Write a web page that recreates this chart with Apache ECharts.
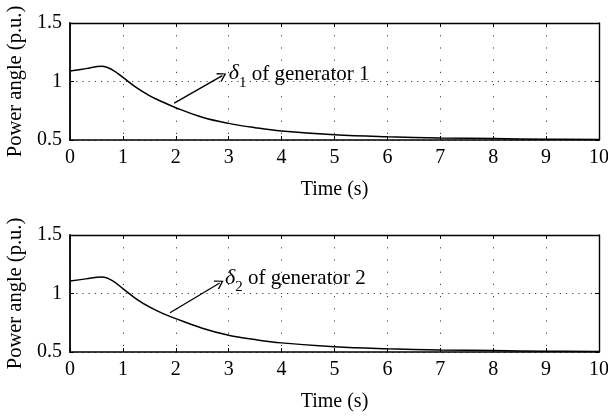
<!DOCTYPE html>
<html>
<head>
<meta charset="utf-8">
<script src="https://cdn.jsdelivr.net/npm/echarts@6/dist/echarts.min.js"></script>
<style>
  html, body { margin: 0; padding: 0; background: #fff; }
  #chart { width: 608px; height: 417px; }
</style>
</head>
<body>
<div id="chart"></div>
<script>
  // values
  var time = [0, 0.3, 0.6, 0.8, 1.0, 1.25, 1.5, 1.75, 2.0, 2.5, 3.0, 3.5, 4, 5, 6, 7, 8, 9, 10];
  var delta1 = [1.09, 1.11, 1.13, 1.10, 1.035, 0.95, 0.88, 0.825, 0.776, 0.695, 0.642, 0.605, 0.577, 0.545, 0.528, 0.518, 0.512, 0.507, 0.504];
  var delta2 = [1.107, 1.125, 1.14, 1.11, 1.041, 0.955, 0.885, 0.83, 0.785, 0.703, 0.643, 0.606, 0.578, 0.545, 0.528, 0.518, 0.512, 0.507, 0.504];
  var xTicks = [0, 10, 1];
  var yTicks = [0.5, 1.5, 0.5];
  var arrow1 = [[1.97, 0.815], [2.88, 1.05]];
  var arrow2 = [[1.89, 0.836], [2.83, 1.09]];
  var label1 = [3.0, 1.077, '1', 'generator 1'];
  var label2 = [2.93, 1.141, '2', 'generator 2'];

  var font = 'Liberation Serif';
  var chevron = 'path://M5,0 L10,7.6 L9,8.4 L5,2.2 L1,8.4 L0,7.6 Z';

  function pairs(xs, ys) {
    return xs.map(function (x, i) { return [x, ys[i]]; });
  }

  function xAxes(gi) {
    return [
      {
        gridIndex: gi, type: 'value', min: xTicks[0], max: xTicks[1], interval: xTicks[2],
        position: 'bottom',
        name: 'Time (s)', nameLocation: 'middle', nameGap: 40,
        nameTextStyle: { fontFamily: font, fontSize: 20, color: '#000' },
        axisLine: { onZero: false, lineStyle: { color: '#000', width: 1.6 } },
        axisTick: { inside: true, length: 4, lineStyle: { color: '#000' } },
        axisLabel: { fontFamily: font, fontSize: 20, color: '#000', margin: 8 },
        splitLine: { show: true, lineStyle: { color: '#444', width: 1, type: [1.2, 11] } }
      },
      {
        gridIndex: gi, type: 'value', min: xTicks[0], max: xTicks[1], interval: xTicks[2],
        position: 'top',
        axisLine: { onZero: false, lineStyle: { color: '#000', width: 1.4 } },
        axisTick: { inside: true, length: 4, lineStyle: { color: '#000' } },
        axisLabel: { show: false },
        splitLine: { show: false }
      }
    ];
  }

  function yAxes(gi) {
    return [
      {
        gridIndex: gi, type: 'value', min: yTicks[0], max: yTicks[1], interval: yTicks[2],
        position: 'left',
        name: 'Power angle (p.u.)', nameLocation: 'middle', nameGap: 44,
        nameTextStyle: { fontFamily: font, fontSize: 20.5, color: '#000' },
        axisLine: { show: true, onZero: false, lineStyle: { color: '#000', width: 1.8 } },
        axisTick: { show: true, inside: true, length: 4, lineStyle: { color: '#000' } },
        axisLabel: { fontFamily: font, fontSize: 20, color: '#000', margin: 8 },
        splitLine: { show: true, lineStyle: { color: '#444', width: 1, type: [1.2, 5] } }
      },
      {
        gridIndex: gi, type: 'value', min: yTicks[0], max: yTicks[1], interval: yTicks[2],
        position: 'right',
        axisLine: { show: true, onZero: false, lineStyle: { color: '#000', width: 1.4 } },
        axisTick: { show: true, inside: true, length: 4, lineStyle: { color: '#000' } },
        axisLabel: { show: false },
        splitLine: { show: false }
      }
    ];
  }

  function curve(gi, ys, arrow, lab) {
    return {
      type: 'line',
      xAxisIndex: gi * 2,
      yAxisIndex: gi * 2,
      data: pairs(time, ys),
      smooth: 0.4,
      showSymbol: false,
      lineStyle: { color: '#000', width: 1.5 },
      animation: false,
      markLine: {
        silent: true,
        symbol: ['none', chevron],
        symbolSize: [10, 9],
        lineStyle: { color: '#000', width: 1.3, type: 'solid' },
        label: { show: false },
        data: [[{ coord: arrow[0] }, { coord: arrow[1] }]]
      },
      markPoint: {
        silent: true,
        symbol: 'circle',
        symbolSize: 0,
        data: [{ coord: [lab[0], lab[1]] }],
        label: {
          show: true,
          position: 'right',
          distance: 0,
          formatter: '{d|δ}{s|' + lab[2] + '}{t| of ' + lab[3] + '}',
          rich: {
            d: { fontFamily: font, fontStyle: 'italic', fontSize: 22, color: '#000', verticalAlign: 'bottom', lineHeight: 24 },
            s: { fontFamily: font, fontSize: 15, color: '#000', verticalAlign: 'bottom', lineHeight: 24, padding: [0, 0, -6, 0] },
            t: { fontFamily: font, fontSize: 21, color: '#000', verticalAlign: 'bottom', lineHeight: 24 }
          }
        }
      }
    };
  }

  var chart = echarts.init(document.getElementById('chart'));
  chart.setOption({
    backgroundColor: '#fff',
    animation: false,
    grid: [
      { left: 70, top: 23, width: 529, height: 117, outerBoundsMode: 'none', containLabel: false },
      { left: 70, top: 235, width: 529, height: 117, outerBoundsMode: 'none', containLabel: false }
    ],
    xAxis: xAxes(0).concat(xAxes(1)),
    yAxis: yAxes(0).concat(yAxes(1)),
    series: [
      curve(0, delta1, arrow1, label1),
      curve(1, delta2, arrow2, label2)
    ]
  });
</script>
</body>
</html>
